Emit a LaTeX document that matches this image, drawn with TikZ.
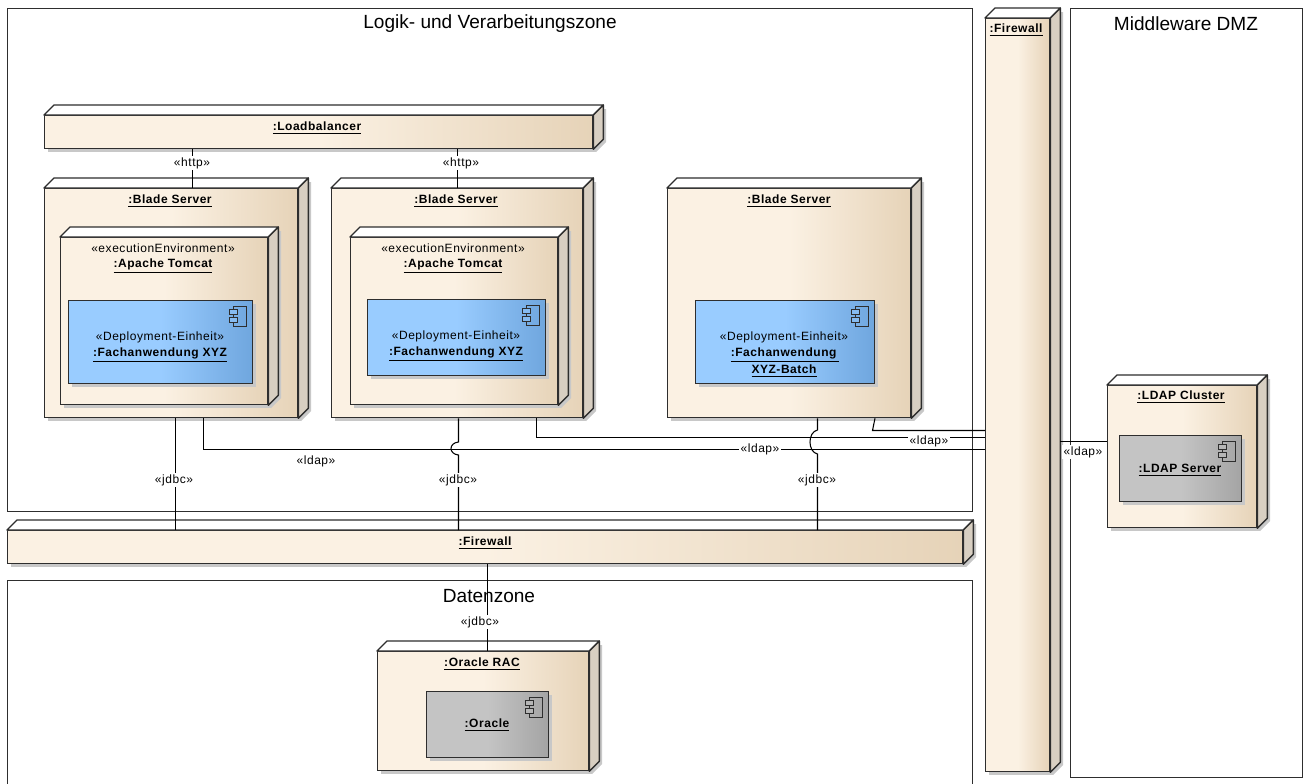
\documentclass[tikz,border=0pt]{standalone}
\usepackage{fontspec}
\setmainfont{Liberation Sans}
\newfontfamily\spaced{Liberation Sans}[LetterSpace=4.5]
\usetikzlibrary{calc}
\definecolor{cream}{HTML}{FBF1E3}
\definecolor{tan}{HTML}{E6D3B8}
\definecolor{sidec}{HTML}{D8CFC2}
\definecolor{shad}{HTML}{C8C8C8}
\definecolor{linec}{HTML}{2E2E2E}
\definecolor{blueA}{HTML}{99CCFF}
\definecolor{blueB}{HTML}{6FA6DE}
\definecolor{greyA}{HTML}{C4C4C4}
\definecolor{greyB}{HTML}{A4A4A4}
\colorlet{blueI}{blueA!55!blueB}
\colorlet{greyI}{greyA!55!greyB}
\pgfdeclarehorizontalshading{nodeshade}{100bp}{color(0bp)=(cream); color(25bp)=(cream); color(50bp)=(cream); color(75bp)=(tan); color(100bp)=(tan)}
\pgfdeclarehorizontalshading{blueshade}{100bp}{color(0bp)=(blueA); color(25bp)=(blueA); color(50bp)=(blueA); color(75bp)=(blueB); color(100bp)=(blueB)}
\pgfdeclarehorizontalshading{greyshade}{100bp}{color(0bp)=(greyA); color(25bp)=(greyA); color(50bp)=(greyA); color(75bp)=(greyB); color(100bp)=(greyB)}
\tikzset{
  x=0.75pt,y=-0.75pt,
  zone/.style={draw=linec,line width=0.9pt,fill=white,rectangle,anchor=north west,inner sep=0pt},
  front/.style={draw=linec,line width=1pt,rectangle,anchor=north west,inner sep=0pt,shading=nodeshade},
  bluecomp/.style={front,shading=blueshade},
  greycomp/.style={front,shading=greyshade},
  face/.style={draw=linec,line width=1pt,line join=round},
  iconline/.style={draw=linec,line width=0.8pt},
  conn/.style={draw=black,line width=0.8pt},
  title/.style={font=\fontsize{14.3}{16}\selectfont,inner sep=0pt},
  nametxt/.style={font=\fontsize{9}{11}\selectfont\spaced\bfseries,inner sep=0pt,align=center,yshift=-1.5pt},
  stereo/.style={font=\fontsize{9}{11}\selectfont\spaced,inner sep=0pt,align=center},
  lab/.style={font=\fontsize{9}{11}\selectfont\spaced,fill=white,inner sep=1pt}
}
\newcommand{\nm}[1]{\underline{#1}}
% name x1 y1 x2 y2
\newcommand{\threed}[5]{%
  \fill[shad] (#2+4,#5) rectangle (#4+4,#5+4);
  \fill[shad] (#4+10,#3-6) -- (#4+14,#3-6) -- (#4+14,#5-6) -- (#4+4,#5+4) -- (#4+4,#5) -- cycle;
  \node[front,minimum width={(#4-#2)*0.75pt},minimum height={(#5-#3)*0.75pt}] (#1) at (#2,#3) {};
  \filldraw[face,fill=white] (#1.north west) -- ++(10,-10) -- ($(#1.north east)+(10,-10)$) -- (#1.north east) -- cycle;
  \filldraw[face,fill=sidec] (#1.north east) -- ++(10,-10) -- ($(#1.south east)+(10,-10)$) -- (#1.south east) -- cycle;
}
% style name x1 y1 x2 y2 iconfill
\newcommand{\comp}[7]{%
  \fill[shad] (#3+4,#4+4) rectangle (#5+4,#6+4);
  \node[#1,minimum width={(#5-#3)*0.75pt},minimum height={(#6-#4)*0.75pt}] (#2) at (#3,#4) {};
  \draw[iconline] ($(#2.north east)+(-19.5,6.5)$) rectangle ($(#2.north east)+(-6.5,26.5)$);
  \filldraw[iconline,fill=#7] ($(#2.north east)+(-23.5,9.5)$) rectangle ($(#2.north east)+(-15.5,14.5)$);
  \filldraw[iconline,fill=#7] ($(#2.north east)+(-23.5,17.5)$) rectangle ($(#2.north east)+(-15.5,22.5)$);
}
\begin{document}
\begin{tikzpicture}
\useasboundingbox (0,0) rectangle (1304,783);
\clip (0,0) rectangle (1304,783);
\fill[white] (0,0) rectangle (1304,783);
% zones
\node[zone,minimum width={965*0.75pt},minimum height={503*0.75pt}] (logik) at (7,8) {};
\node[zone,minimum width={965*0.75pt},minimum height={215*0.75pt}] (daten) at (7,580) {};
\node[zone,minimum width={232*0.75pt},minimum height={769*0.75pt}] (dmz) at (1070,8) {};
\node[title] (logikT) at (490,24) {Logik- und Verarbeitungszone};
\node[title] (datenT) at (489,596) {Datenzone};
\node[title] (dmzT) at (1186,24) {Middleware DMZ};
% deployment nodes
\threed{lb}{44}{115}{592}{148}
\threed{bs1}{44}{188}{297}{417}
\threed{bs2}{331}{188}{582}{417}
\threed{bs3}{667}{188}{910}{417}
\threed{ex1}{60}{237}{267}{404}
\threed{ex2}{350}{237}{557}{404}
\threed{fwh}{7}{530}{962}{563}
\threed{fwv}{985}{18}{1049}{771}
\threed{ldapc}{1107}{385}{1256}{527}
\threed{rac}{377}{651}{588}{770}
% components
\comp{bluecomp}{c1}{68}{300}{252}{383}{blueI}
\comp{bluecomp}{c2}{367}{299}{545}{375}{blueI}
\comp{bluecomp}{c3}{695}{300}{874}{383}{blueI}
\comp{greycomp}{c4}{1119}{435}{1241}{501}{greyI}
\comp{greycomp}{c5}{426}{691}{548}{757}{greyI}
% texts
\node[nametxt] (lbT) at (317,126) {\nm{:Loadbalancer}};
\node[nametxt] (bs1T) at (170,199) {\nm{:Blade Server}};
\node[nametxt] (bs2T) at (456,199) {\nm{:Blade Server}};
\node[nametxt] (bs3T) at (789,199) {\nm{:Blade Server}};
\node[stereo] (ex1S) at (163,248) {«executionEnvironment»};
\node[nametxt] (ex1T) at (163,264) {\nm{:Apache Tomcat}};
\node[stereo] (ex2S) at (453,248) {«executionEnvironment»};
\node[nametxt] (ex2T) at (453,264) {\nm{:Apache Tomcat}};
\node[stereo] (c1S) at (160,337) {«Deployment-Einheit»};
\node[nametxt] (c1T) at (160,353) {\nm{:Fachanwendung XYZ}};
\node[stereo] (c2S) at (456,336) {«Deployment-Einheit»};
\node[nametxt] (c2T) at (456,352) {\nm{:Fachanwendung XYZ}};
\node[stereo] (c3S) at (784,337) {«Deployment-Einheit»};
\node[nametxt] (c3T) at (785,353) {\nm{:Fachanwendung\kern2pt}};
\node[nametxt] (c3U) at (784,369) {\nm{XYZ-Batch}};
\node[nametxt] (fwhT) at (485,541) {\nm{:Firewall}};
\node[nametxt] (fwvT) at (1016,28) {\nm{:Firewall}};
\node[nametxt] (ldapcT) at (1181,395) {\nm{:LDAP Cluster}};
\node[nametxt] (c4T) at (1180,468) {\nm{:LDAP Server}};
\node[nametxt] (racT) at (482,662) {\nm{:Oracle RAC}};
\node[nametxt] (c5T) at (487,723) {\nm{:Oracle}};
% connectors
\coordinate (h1) at (192.5,0);
\coordinate (h2) at (457.5,0);
\coordinate (j1) at (175.5,0);
\coordinate (j2) at (458.5,0);
\coordinate (j3) at (817.5,0);
\coordinate (j4) at (487.5,0);
\coordinate (l1) at (203.5,0);
\coordinate (l2) at (536.5,0);
\coordinate (l3a) at (875,0);
\coordinate (l3b) at (872.5,0);
\coordinate (yA) at (0,430.5);
\coordinate (yB) at (0,437.5);
\coordinate (yC) at (0,449.5);
\coordinate (yD) at (0,441.5);
\coordinate (a1) at (0,442);
\coordinate (a2) at (0,455);
\coordinate (a3) at (0,430);
\coordinate (a4) at (0,454);
\draw[conn] (lb.south -| h1) -- (bs1.north -| h1);
\draw[conn] (lb.south -| h2) -- (bs2.north -| h2);
\draw[conn] (bs1.south -| j1) -- (fwh.north -| j1);
\draw[conn] (bs2.south -| j2) -- (j2 |- a1) .. controls ($(j2 |- a1)+(-10,1)$) and ($(j2 |- a2)+(-10,-1)$) .. (j2 |- a2) -- (fwh.north -| j2);
\draw[conn] (bs3.south -| j3) -- (j3 |- a3) .. controls ($(j3 |- a3)+(-10,2)$) and ($(j3 |- a4)+(-10,-2)$) .. (j3 |- a4) -- (fwh.north -| j3);
\draw[conn] (fwh.south -| j4) -- (rac.north -| j4);
\draw[conn] (bs1.south -| l1) -- (l1 |- yC) -- (fwv.west |- yC);
\draw[conn] (bs2.south -| l2) -- (l2 |- yB) -- (fwv.west |- yB);
\draw[conn] (bs3.south -| l3a) -- (l3b |- yA) -- (fwv.west |- yA);
\draw[conn] ($(fwv.east |- yD)+(10,0)$) -- (ldapc.west |- yD);
% connector labels
\node[lab] (t1) at (192,163) {«http»};
\node[lab] (t2) at (461,163) {«http»};
\node[lab] (t3) at (174,480) {«jdbc»};
\node[lab] (t4) at (458,480) {«jdbc»};
\node[lab] (t5) at (817,480) {«jdbc»};
\node[lab] (t6) at (480,622) {«jdbc»};
\node[lab,fill=none] (t7) at (316,461) {«ldap»};
\node[lab] (t8) at (760,449) {«ldap»};
\node[lab] (t9) at (929,441) {«ldap»};
\node[lab] (t10) at (1083,452) {«ldap»};
\end{tikzpicture}
\end{document}
